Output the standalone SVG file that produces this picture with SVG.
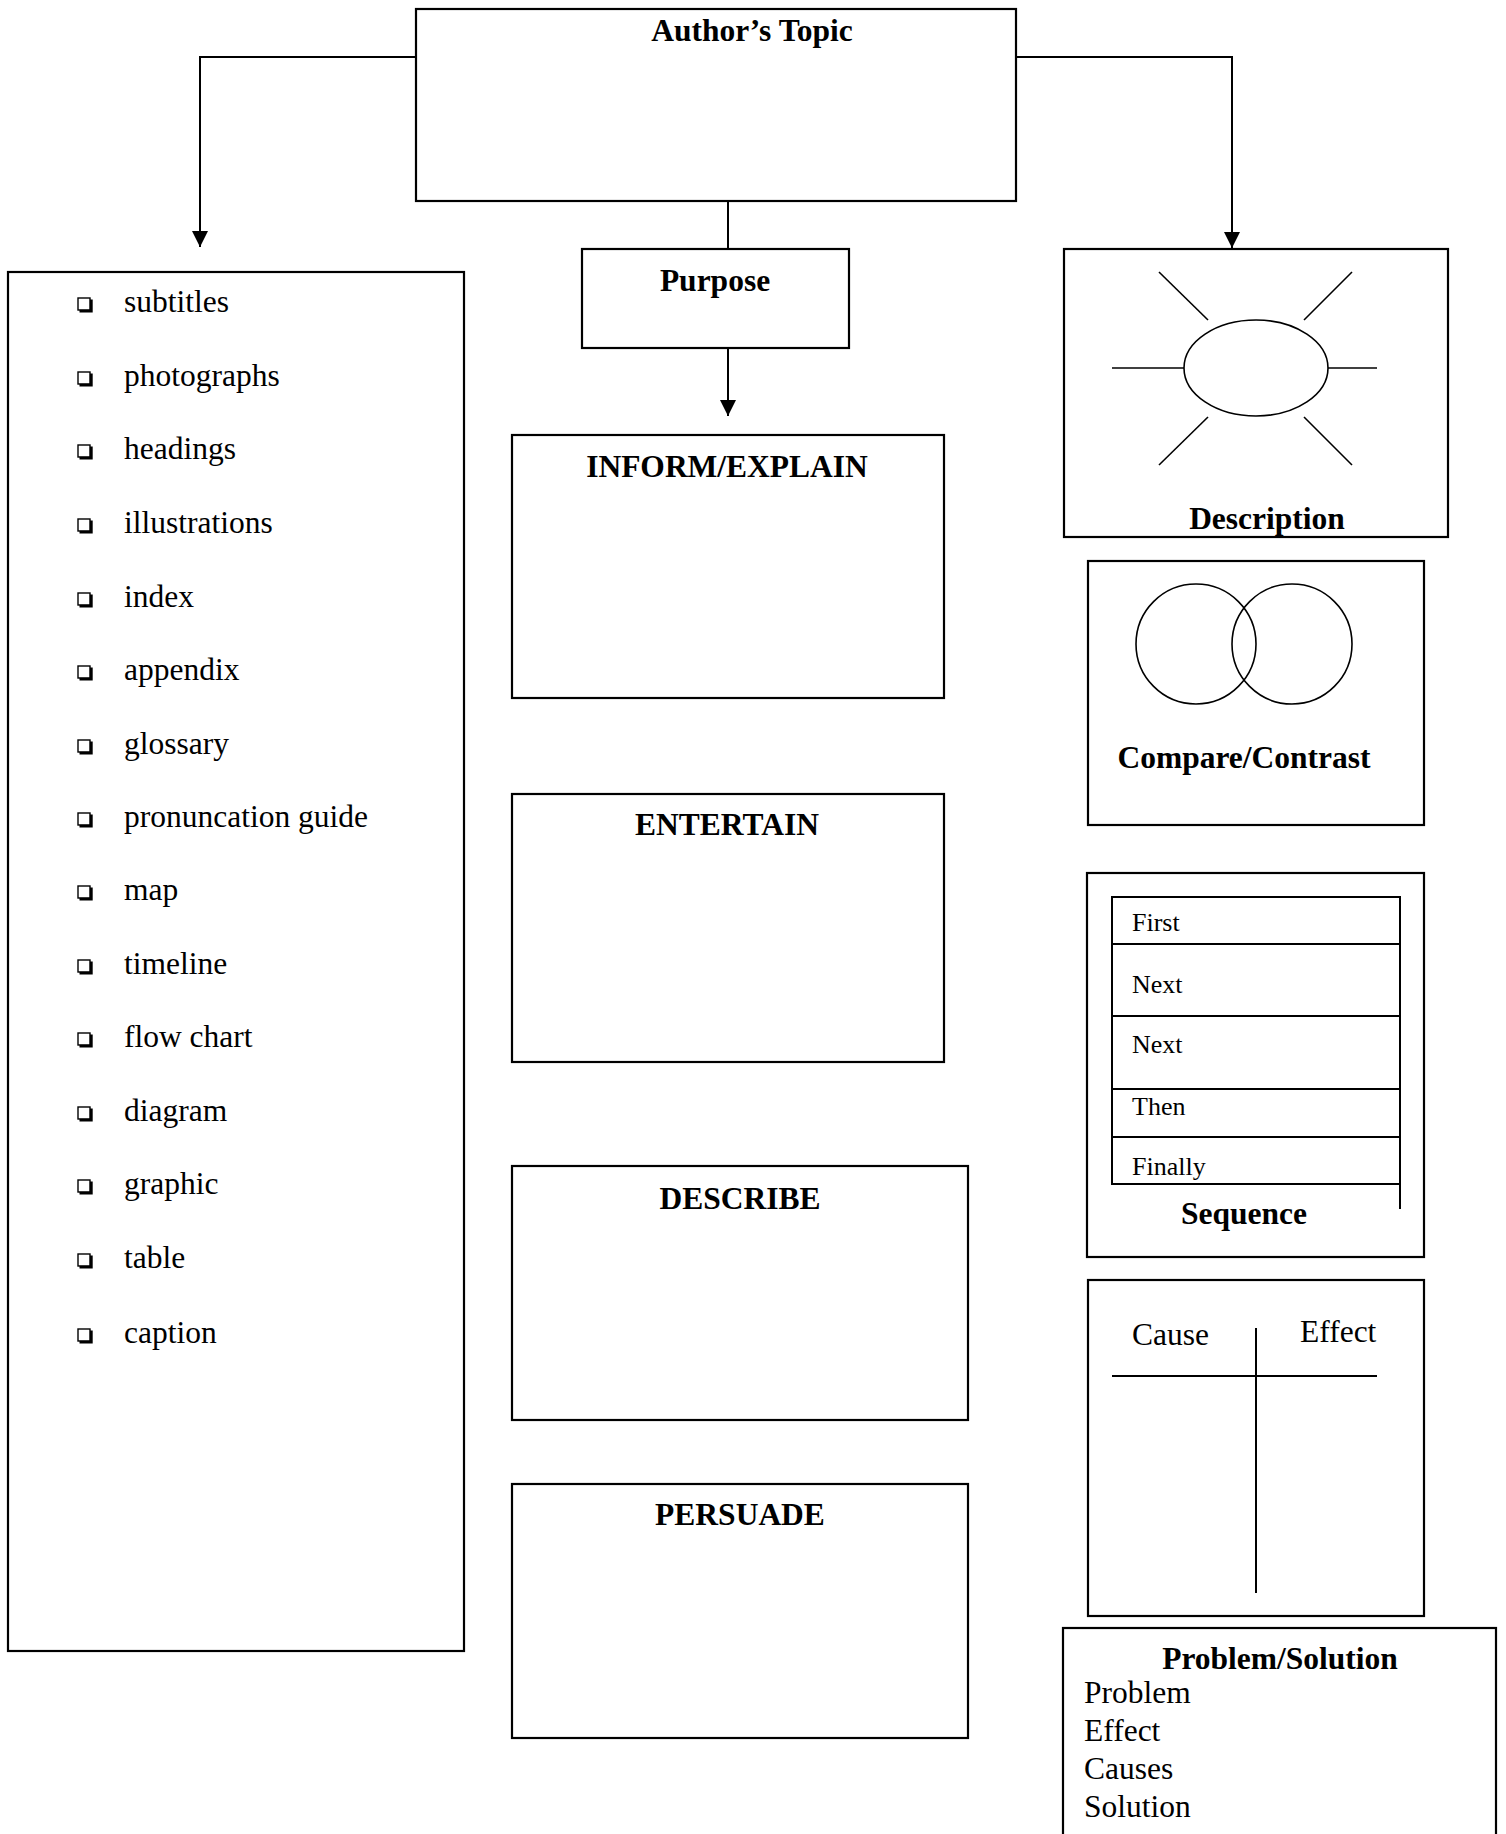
<svg xmlns="http://www.w3.org/2000/svg" width="1506" height="1834" viewBox="0 0 1506 1834">
<style>
.box{fill:#fff;stroke:#000;stroke-width:2.2}
.ln{fill:none;stroke:#000;stroke-width:2}
.thin{fill:none;stroke:#000;stroke-width:1.6}
.t{font-family:"Liberation Serif","Times New Roman",serif;font-size:31.5px;fill:#000}
.b{font-family:"Liberation Serif","Times New Roman",serif;font-size:31.5px;font-weight:bold;fill:#000}
.s{font-family:"Liberation Serif","Times New Roman",serif;font-size:26px;fill:#000}
.c{text-anchor:middle}
</style>
<defs>
<marker id="arr" markerUnits="userSpaceOnUse" markerWidth="17" markerHeight="17" refX="16" refY="8" orient="auto">
<path d="M0,0 L16,8 L0,16 z" fill="#000"/>
</marker>
<g id="bullet">
<rect x="0" y="-14" width="12" height="12" fill="#fff" stroke="#000" stroke-width="1.4"/>
<path d="M1.5,-0.8 H13.3 V-12.5" fill="none" stroke="#000" stroke-width="2.8"/>
</g>
</defs>

<g id="connectors">
<path class="ln" d="M416,57 H200 V247" marker-end="url(#arr)"/>
<path class="ln" d="M1016,57 H1232 V248" marker-end="url(#arr)"/>
<path class="ln" d="M728,201 V249"/>
<path class="ln" d="M728,348 V416" marker-end="url(#arr)"/>
</g>

<g id="authors-topic">
<rect class="box" x="416" y="9" width="600" height="192"/>
<text class="b c" x="752" y="41">Author’s Topic</text>
</g>

<g id="purpose">
<rect class="box" x="582" y="249" width="267" height="99"/>
<text class="b c" x="715" y="291">Purpose</text>
</g>

<g id="text-features">
<rect class="box" x="8" y="272" width="456" height="1379"/>
<use href="#bullet" x="78" y="312"/><text class="t" x="124" y="312">subtitles</text>
<use href="#bullet" x="78" y="386"/><text class="t" x="124" y="386">photographs</text>
<use href="#bullet" x="78" y="459"/><text class="t" x="124" y="459">headings</text>
<use href="#bullet" x="78" y="533"/><text class="t" x="124" y="533">illustrations</text>
<use href="#bullet" x="78" y="607"/><text class="t" x="124" y="607">index</text>
<use href="#bullet" x="78" y="680"/><text class="t" x="124" y="680">appendix</text>
<use href="#bullet" x="78" y="754"/><text class="t" x="124" y="754">glossary</text>
<use href="#bullet" x="78" y="827"/><text class="t" x="124" y="827">pronuncation guide</text>
<use href="#bullet" x="78" y="900"/><text class="t" x="124" y="900">map</text>
<use href="#bullet" x="78" y="974"/><text class="t" x="124" y="974">timeline</text>
<use href="#bullet" x="78" y="1047"/><text class="t" x="124" y="1047">flow chart</text>
<use href="#bullet" x="78" y="1121"/><text class="t" x="124" y="1121">diagram</text>
<use href="#bullet" x="78" y="1194"/><text class="t" x="124" y="1194">graphic</text>
<use href="#bullet" x="78" y="1268"/><text class="t" x="124" y="1268">table</text>
<use href="#bullet" x="78" y="1343"/><text class="t" x="124" y="1343">caption</text>
</g>

<g id="inform">
<rect class="box" x="512" y="435" width="432" height="263"/>
<text class="b c" x="727" y="477">INFORM/EXPLAIN</text>
</g>

<g id="entertain">
<rect class="box" x="512" y="794" width="432" height="268"/>
<text class="b c" x="727" y="835">ENTERTAIN</text>
</g>

<g id="describe">
<rect class="box" x="512" y="1166" width="456" height="254"/>
<text class="b c" x="740" y="1209">DESCRIBE</text>
</g>

<g id="persuade">
<rect class="box" x="512" y="1484" width="456" height="254"/>
<text class="b c" x="740" y="1525">PERSUADE</text>
</g>

<g id="description">
<rect class="box" x="1064" y="249" width="384" height="288"/>
<ellipse class="thin" cx="1256" cy="368" rx="72" ry="48"/>
<line class="thin" x1="1112" y1="368" x2="1184" y2="368"/>
<line class="thin" x1="1328" y1="368" x2="1377" y2="368"/>
<line class="thin" x1="1159" y1="272" x2="1208" y2="320"/>
<line class="thin" x1="1352" y1="272" x2="1304" y2="320"/>
<line class="thin" x1="1208" y1="417" x2="1159" y2="465"/>
<line class="thin" x1="1304" y1="417" x2="1352" y2="465"/>
<text class="b c" x="1267" y="529">Description</text>
</g>

<g id="compare-contrast">
<rect class="box" x="1088" y="561" width="336" height="264"/>
<circle class="thin" cx="1196" cy="644" r="60"/>
<circle class="thin" cx="1292" cy="644" r="60"/>
<text class="b c" x="1244" y="768">Compare/Contrast</text>
</g>

<g id="sequence">
<rect class="box" x="1087" y="873" width="337" height="384"/>
<path class="ln" d="M1112,1184 V897 H1400 V1209"/>
<line class="ln" x1="1112" y1="944" x2="1400" y2="944"/>
<line class="ln" x1="1112" y1="1016" x2="1400" y2="1016"/>
<line class="ln" x1="1112" y1="1089" x2="1400" y2="1089"/>
<line class="ln" x1="1112" y1="1137" x2="1400" y2="1137"/>
<line class="ln" x1="1111" y1="1184" x2="1400" y2="1184"/>
<text class="s" x="1132" y="931">First</text>
<text class="s" x="1132" y="993">Next</text>
<text class="s" x="1132" y="1053">Next</text>
<text class="s" x="1132" y="1115">Then</text>
<text class="s" x="1132" y="1175">Finally</text>
<text class="b c" x="1244" y="1224">Sequence</text>
</g>

<g id="cause-effect">
<rect class="box" x="1088" y="1280" width="336" height="336"/>
<line class="ln" x1="1112" y1="1376" x2="1377" y2="1376"/>
<line class="ln" x1="1256" y1="1328" x2="1256" y2="1593"/>
<text class="t" x="1132" y="1345">Cause</text>
<text class="t" x="1300" y="1342">Effect</text>
</g>

<g id="problem-solution">
<rect class="box" x="1063" y="1628" width="433" height="230"/>
<text class="b c" x="1280" y="1669">Problem/Solution</text>
<text class="t" x="1084" y="1703">Problem</text>
<text class="t" x="1084" y="1741">Effect</text>
<text class="t" x="1084" y="1779">Causes</text>
<text class="t" x="1084" y="1817">Solution</text>
</g>
</svg>
